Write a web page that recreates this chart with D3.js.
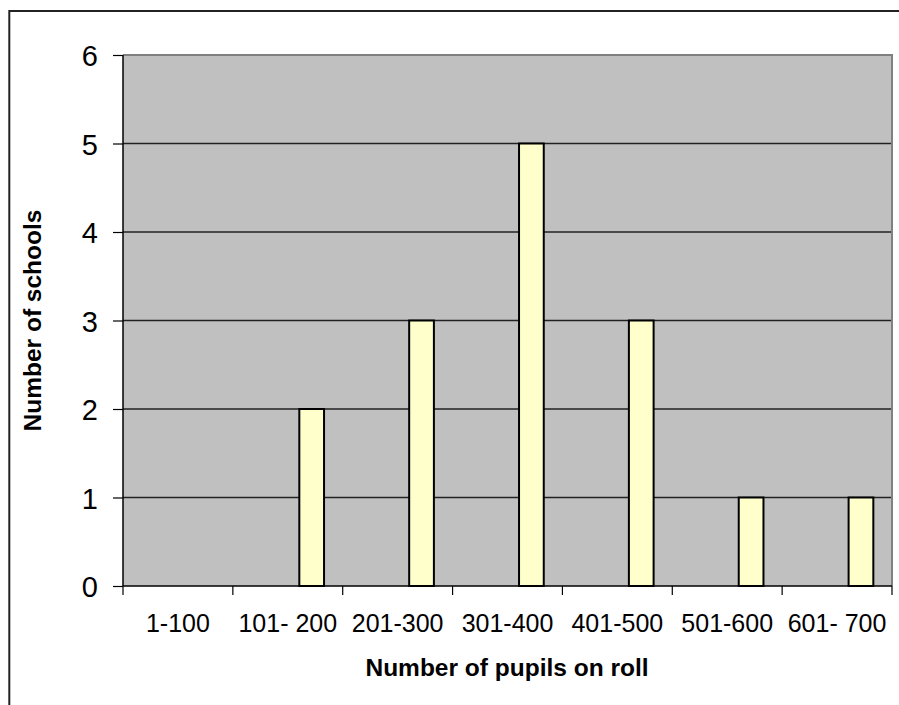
<!DOCTYPE html>
<html>
<head>
<meta charset="utf-8">
<script src="https://cdn.jsdelivr.net/npm/d3@7"></script>
<style>
  html, body { margin: 0; padding: 0; background: #fff; overflow: hidden; }
  svg { display: block; font-family: Arial, "Liberation Sans", sans-serif; }
</style>
</head>
<body>
<svg id="chart" width="899" height="705"></svg>
<script>
const categories = ["1-100", "101- 200", "201-300", "301-400", "401-500", "501-600", "601- 700"];
const schools = [0, 2, 3, 5, 3, 1, 1];
const yTicks = [0, 1, 2, 3, 4, 5, 6];
const xTitle = "Number of pupils on roll";
const yTitle = "Number of schools";

const svg = d3.select("#chart");
const plot = { left: 123, top: 55, right: 892, bottom: 586 };

// outer frame (only top and left edges visible)
svg.append("path")
  .attr("d", "M9.3,705V11H899")
  .attr("fill", "none").attr("stroke", "#222").attr("stroke-width", 2);

const x = d3.scaleBand().domain(categories).range([plot.left, plot.right]).paddingInner(0).paddingOuter(0);
const y = d3.scaleLinear().domain([0, 6]).range([plot.bottom, plot.top]);

// plot background
svg.append("rect")
  .attr("x", plot.left).attr("y", plot.top)
  .attr("width", plot.right - plot.left).attr("height", plot.bottom - plot.top)
  .attr("fill", "#C0C0C0");

// gridlines
svg.append("g").selectAll("line")
  .data(yTicks.filter(d => d > 0 && d < 6))
  .join("line")
  .attr("x1", plot.left).attr("x2", plot.right)
  .attr("y1", d => y(d)).attr("y2", d => y(d))
  .attr("stroke", "#222").attr("stroke-width", 1.3);

// top & right plot border (gray)
svg.append("path")
  .attr("d", `M${plot.left},${plot.top}H${plot.right}V${plot.bottom}`)
  .attr("fill", "none").attr("stroke", "#808080").attr("stroke-width", 2);

// bars
const bw = x.bandwidth();
svg.append("g").selectAll("rect")
  .data(categories.map((c, i) => ({ c, v: schools[i] })).filter(d => d.v > 0))
  .join("rect")
  .attr("x", d => x(d.c) + bw * 0.605)
  .attr("width", bw * 0.225)
  .attr("y", d => y(d.v))
  .attr("height", d => y(0) - y(d.v))
  .attr("fill", "#FFFFCC").attr("stroke", "#000").attr("stroke-width", 2);

// y axis
const yAxis = svg.append("g").attr("transform", `translate(${plot.left},0)`)
  .call(d3.axisLeft(y).tickValues(yTicks).tickSize(10).tickPadding(15).tickFormat(d3.format("d")));
yAxis.attr("font-size", null).attr("font-family", null);
yAxis.select(".domain").attr("stroke", "#000").attr("stroke-width", 1.5).attr("d", `M0,${plot.top}V${plot.bottom}`);
yAxis.selectAll(".tick line").attr("stroke", "#000").attr("stroke-width", 1.2);
yAxis.selectAll(".tick text")
  .style("font-size", "29px").style("font-family", "Arial, 'Liberation Sans', sans-serif")
  .attr("fill", "#000").attr("dy", "0.37em");

// x axis with ticks at category boundaries
const xg = svg.append("g").attr("transform", `translate(0,${plot.bottom})`);
xg.append("line").attr("x1", plot.left).attr("x2", plot.right).attr("stroke", "#000").attr("stroke-width", 1.5);
const bounds = categories.map(c => x(c)).concat([plot.right]);
xg.selectAll("line.tk").data(bounds).join("line").attr("class", "tk")
  .attr("x1", d => d).attr("x2", d => d).attr("y1", 0).attr("y2", 9)
  .attr("stroke", "#000").attr("stroke-width", 1.2);
xg.selectAll("text").data(categories).join("text")
  .attr("x", d => x(d) + bw / 2).attr("y", 45.5)
  .attr("text-anchor", "middle").style("font-size", "25px").attr("fill", "#000")
  .text(d => d);

// axis titles
svg.append("text")
  .attr("x", (plot.left + plot.right) / 2 - 0.5).attr("y", 676)
  .attr("text-anchor", "middle").style("font-size", "24.5px").attr("font-weight", "bold")
  .text(xTitle);
svg.append("text")
  .attr("transform", `translate(41,${(plot.top + plot.bottom) / 2}) rotate(-90)`)
  .attr("text-anchor", "middle").style("font-size", "24.5px").attr("font-weight", "bold")
  .text(yTitle);
</script>
</body>
</html>
